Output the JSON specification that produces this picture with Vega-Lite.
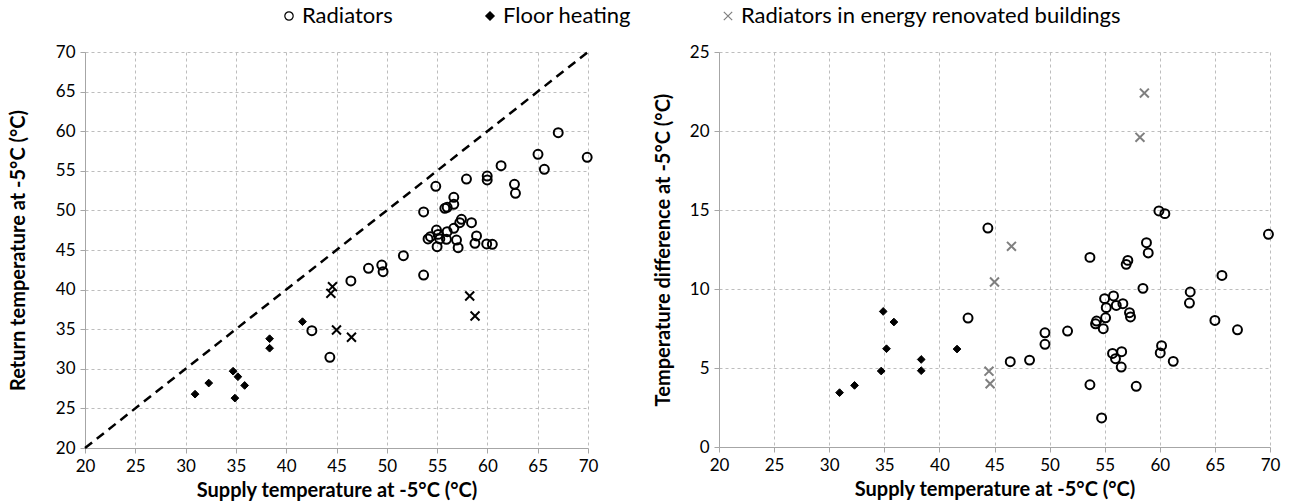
{
  "$schema": "https://vega.github.io/schema/vega-lite/v6.json",
  "background": "white",
  "padding": {"left": 8, "top": 5, "right": 5, "bottom": 5},
  "config": {
    "font": "Lato",
    "view": {"stroke": null},
    "axis": {
      "grid": true, "gridColor": "#bdbdbd", "gridDash": [3, 3], "gridWidth": 1,
      "domainColor": "#a6a6a6", "tickColor": "#a6a6a6", "tickSize": 5,
      "labelFontSize": 17, "labelColor": "#000000", "labelFont": "Lato",
      "labelFlush": false, "labelOverlap": false, "labelPadding": 5,
      "titleFontSize": 20, "titleFontWeight": "bold", "titleColor": "#000000", "titleFont": "Lato"
    },
    "legend": {
      "orient": "none", "direction": "horizontal",
      "labelFontSize": 22, "labelFont": "Lato", "labelColor": "#000000", "labelLimit": 700,
      "symbolSize": 70, "symbolStrokeWidth": 1.2, "columnPadding": 86, "labelOffset": 2
    },
    "concat": {"spacing": 55}
  },
  "datasets": {
    "diag": [{"a": 20}, {"a": 70}],
    "left": [
      {"s": 42.55, "r": 34.81, "t": "Radiators"},
      {"s": 44.34, "r": 31.45, "t": "Radiators"},
      {"s": 46.43, "r": 41.09, "t": "Radiators"},
      {"s": 48.18, "r": 42.69, "t": "Radiators"},
      {"s": 49.5, "r": 43.1, "t": "Radiators"},
      {"s": 49.63, "r": 42.26, "t": "Radiators"},
      {"s": 51.65, "r": 44.28, "t": "Radiators"},
      {"s": 53.66, "r": 41.84, "t": "Radiators"},
      {"s": 53.66, "r": 49.8, "t": "Radiators"},
      {"s": 54.87, "r": 53.04, "t": "Radiators"},
      {"s": 56.66, "r": 51.65, "t": "Radiators"},
      {"s": 56.66, "r": 50.77, "t": "Radiators"},
      {"s": 55.77, "r": 50.27, "t": "Radiators"},
      {"s": 56.0, "r": 50.39, "t": "Radiators"},
      {"s": 57.42, "r": 48.88, "t": "Radiators"},
      {"s": 57.25, "r": 48.45, "t": "Radiators"},
      {"s": 58.42, "r": 48.45, "t": "Radiators"},
      {"s": 56.66, "r": 47.74, "t": "Radiators"},
      {"s": 56.0, "r": 47.31, "t": "Radiators"},
      {"s": 54.94, "r": 47.52, "t": "Radiators"},
      {"s": 55.1, "r": 46.97, "t": "Radiators"},
      {"s": 54.34, "r": 46.68, "t": "Radiators"},
      {"s": 54.1, "r": 46.39, "t": "Radiators"},
      {"s": 55.27, "r": 46.39, "t": "Radiators"},
      {"s": 55.93, "r": 46.35, "t": "Radiators"},
      {"s": 56.93, "r": 46.26, "t": "Radiators"},
      {"s": 58.92, "r": 46.77, "t": "Radiators"},
      {"s": 58.76, "r": 45.84, "t": "Radiators"},
      {"s": 59.93, "r": 45.76, "t": "Radiators"},
      {"s": 60.49, "r": 45.72, "t": "Radiators"},
      {"s": 55.0, "r": 45.42, "t": "Radiators"},
      {"s": 57.09, "r": 45.29, "t": "Radiators"},
      {"s": 65.03, "r": 57.08, "t": "Radiators"},
      {"s": 65.66, "r": 55.19, "t": "Radiators"},
      {"s": 61.36, "r": 55.64, "t": "Radiators"},
      {"s": 59.98, "r": 54.34, "t": "Radiators"},
      {"s": 59.98, "r": 53.84, "t": "Radiators"},
      {"s": 62.69, "r": 53.3, "t": "Radiators"},
      {"s": 62.79, "r": 52.16, "t": "Radiators"},
      {"s": 57.92, "r": 53.96, "t": "Radiators"},
      {"s": 67.04, "r": 59.81, "t": "Radiators"},
      {"s": 69.92, "r": 56.7, "t": "Radiators"},
      {"s": 30.94, "r": 26.8, "t": "Floor heating"},
      {"s": 32.3, "r": 28.2, "t": "Floor heating"},
      {"s": 34.72, "r": 29.7, "t": "Floor heating"},
      {"s": 34.9, "r": 26.3, "t": "Floor heating"},
      {"s": 35.87, "r": 27.9, "t": "Floor heating"},
      {"s": 35.2, "r": 29.0, "t": "Floor heating"},
      {"s": 38.35, "r": 33.8, "t": "Floor heating"},
      {"s": 38.35, "r": 32.6, "t": "Floor heating"},
      {"s": 41.62, "r": 35.95, "t": "Floor heating"},
      {"s": 44.6, "r": 40.37, "t": "Radiators in energy renovated buildings"},
      {"s": 44.44, "r": 39.53, "t": "Radiators in energy renovated buildings"},
      {"s": 45.0, "r": 34.9, "t": "Radiators in energy renovated buildings"},
      {"s": 46.49, "r": 33.98, "t": "Radiators in energy renovated buildings"},
      {"s": 58.24, "r": 39.19, "t": "Radiators in energy renovated buildings"},
      {"s": 58.77, "r": 36.67, "t": "Radiators in energy renovated buildings"}
    ],
    "right": [
      {"s": 59.92, "d": 14.94, "t": "Radiators"},
      {"s": 60.46, "d": 14.77, "t": "Radiators"},
      {"s": 69.86, "d": 13.46, "t": "Radiators"},
      {"s": 53.66, "d": 12.0, "t": "Radiators"},
      {"s": 58.79, "d": 12.93, "t": "Radiators"},
      {"s": 58.95, "d": 12.28, "t": "Radiators"},
      {"s": 57.1, "d": 11.81, "t": "Radiators"},
      {"s": 56.95, "d": 11.56, "t": "Radiators"},
      {"s": 65.64, "d": 10.86, "t": "Radiators"},
      {"s": 58.47, "d": 10.04, "t": "Radiators"},
      {"s": 62.76, "d": 9.81, "t": "Radiators"},
      {"s": 62.69, "d": 9.11, "t": "Radiators"},
      {"s": 54.99, "d": 9.39, "t": "Radiators"},
      {"s": 55.8, "d": 9.56, "t": "Radiators"},
      {"s": 55.14, "d": 8.82, "t": "Radiators"},
      {"s": 56.05, "d": 8.96, "t": "Radiators"},
      {"s": 56.65, "d": 9.07, "t": "Radiators"},
      {"s": 57.25, "d": 8.5, "t": "Radiators"},
      {"s": 57.34, "d": 8.23, "t": "Radiators"},
      {"s": 55.08, "d": 8.18, "t": "Radiators"},
      {"s": 54.26, "d": 7.97, "t": "Radiators"},
      {"s": 54.17, "d": 7.8, "t": "Radiators"},
      {"s": 54.87, "d": 7.49, "t": "Radiators"},
      {"s": 49.58, "d": 7.23, "t": "Radiators"},
      {"s": 49.58, "d": 6.5, "t": "Radiators"},
      {"s": 51.63, "d": 7.34, "t": "Radiators"},
      {"s": 65.0, "d": 8.01, "t": "Radiators"},
      {"s": 67.05, "d": 7.42, "t": "Radiators"},
      {"s": 55.71, "d": 5.92, "t": "Radiators"},
      {"s": 56.54, "d": 6.03, "t": "Radiators"},
      {"s": 55.98, "d": 5.59, "t": "Radiators"},
      {"s": 56.5, "d": 5.06, "t": "Radiators"},
      {"s": 60.16, "d": 6.41, "t": "Radiators"},
      {"s": 60.04, "d": 5.95, "t": "Radiators"},
      {"s": 61.22, "d": 5.42, "t": "Radiators"},
      {"s": 53.66, "d": 3.94, "t": "Radiators"},
      {"s": 57.86, "d": 3.84, "t": "Radiators"},
      {"s": 54.72, "d": 1.84, "t": "Radiators"},
      {"s": 44.4, "d": 13.86, "t": "Radiators"},
      {"s": 42.6, "d": 8.16, "t": "Radiators"},
      {"s": 46.43, "d": 5.4, "t": "Radiators"},
      {"s": 48.18, "d": 5.5, "t": "Radiators"},
      {"s": 30.94, "d": 3.44, "t": "Floor heating"},
      {"s": 32.3, "d": 3.9, "t": "Floor heating"},
      {"s": 34.72, "d": 4.81, "t": "Floor heating"},
      {"s": 34.9, "d": 8.58, "t": "Floor heating"},
      {"s": 35.87, "d": 7.91, "t": "Floor heating"},
      {"s": 35.2, "d": 6.22, "t": "Floor heating"},
      {"s": 38.35, "d": 5.54, "t": "Floor heating"},
      {"s": 38.35, "d": 4.83, "t": "Floor heating"},
      {"s": 41.6, "d": 6.2, "t": "Floor heating"},
      {"s": 44.5, "d": 4.8, "t": "Radiators in energy renovated buildings"},
      {"s": 44.6, "d": 4.0, "t": "Radiators in energy renovated buildings"},
      {"s": 45.0, "d": 10.44, "t": "Radiators in energy renovated buildings"},
      {"s": 46.54, "d": 12.7, "t": "Radiators in energy renovated buildings"},
      {"s": 58.2, "d": 19.6, "t": "Radiators in energy renovated buildings"},
      {"s": 58.6, "d": 22.4, "t": "Radiators in energy renovated buildings"}
    ]
  },
  "hconcat": [
    {
      "width": 503,
      "height": 396,
      "layer": [
        {
          "data": {"name": "diag"},
          "mark": {"type": "line", "color": "black", "strokeDash": [9, 6], "strokeWidth": 2.5},
          "encoding": {
            "x": {"field": "a", "type": "quantitative", "scale": {"domain": [20, 70], "nice": false, "zero": false},
                  "axis": {"title": "Supply temperature at -5°C (°C)", "values": [20, 25, 30, 35, 40, 45, 50, 55, 60, 65, 70], "titlePadding": 6}},
            "y": {"field": "a", "type": "quantitative", "scale": {"domain": [20, 70], "nice": false, "zero": false},
                  "axis": {"title": "Return temperature at -5°C (°C)", "values": [20, 25, 30, 35, 40, 45, 50, 55, 60, 65, 70], "titlePadding": 27}}
          }
        },
        {
          "data": {"name": "left"},
          "mark": {"type": "point", "filled": false, "opacity": 1},
          "encoding": {
            "x": {"field": "s", "type": "quantitative", "scale": {"domain": [20, 70], "nice": false, "zero": false},
                  "axis": {"title": "Supply temperature at -5°C (°C)", "values": [20, 25, 30, 35, 40, 45, 50, 55, 60, 65, 70], "titlePadding": 6}},
            "y": {"field": "r", "type": "quantitative", "scale": {"domain": [20, 70], "nice": false, "zero": false},
                  "axis": {"title": "Return temperature at -5°C (°C)", "values": [20, 25, 30, 35, 40, 45, 50, 55, 60, 65, 70], "titlePadding": 27}},
            "shape": {
              "field": "t", "type": "nominal",
              "scale": {"domain": ["Radiators", "Floor heating", "Radiators in energy renovated buildings"],
                        "range": ["circle", "diamond", "M-1,-1L1,1M-1,1L1,-1"]},
              "legend": {"title": null, "legendX": 193, "legendY": -47}
            },
            "fill": {
              "field": "t", "type": "nominal",
              "scale": {"domain": ["Radiators", "Floor heating", "Radiators in energy renovated buildings"],
                        "range": ["transparent", "black", "transparent"]},
              "legend": {"title": null, "legendX": 193, "legendY": -47}
            },
            "stroke": {"value": "black"},
            "strokeWidth": {"condition": {"test": "datum.t === 'Floor heating'", "value": 1}, "value": 2},
            "size": {"condition": {"test": "datum.t === 'Floor heating'", "value": 60}, "value": 80}
          }
        }
      ]
    },
    {
      "width": 551,
      "height": 395,
      "data": {"name": "right"},
      "mark": {"type": "point", "filled": false, "opacity": 1},
      "encoding": {
        "x": {"field": "s", "type": "quantitative", "scale": {"domain": [20, 70], "nice": false, "zero": false},
              "axis": {"title": "Supply temperature at -5°C (°C)", "values": [20, 25, 30, 35, 40, 45, 50, 55, 60, 65, 70], "titlePadding": 6}},
        "y": {"field": "d", "type": "quantitative", "scale": {"domain": [0, 25], "nice": false, "zero": false},
              "axis": {"title": "Temperature difference at -5°C (°C)", "values": [0, 5, 10, 15, 20, 25], "titlePadding": 16}},
        "shape": {"field": "t", "type": "nominal", "legend": {"title": null, "legendX": 193, "legendY": -47}},
        "fill": {"field": "t", "type": "nominal", "legend": {"title": null, "legendX": 193, "legendY": -47}},
        "stroke": {
          "field": "t", "type": "nominal",
          "scale": {"domain": ["Radiators", "Floor heating", "Radiators in energy renovated buildings"],
                    "range": ["black", "black", "#7f7f7f"]},
          "legend": {"title": null, "legendX": 193, "legendY": -47}
        },
        "strokeWidth": {"condition": {"test": "datum.t === 'Floor heating'", "value": 1}, "value": 2},
        "size": {"condition": {"test": "datum.t === 'Floor heating'", "value": 60}, "value": 80}
      }
    }
  ]
}
